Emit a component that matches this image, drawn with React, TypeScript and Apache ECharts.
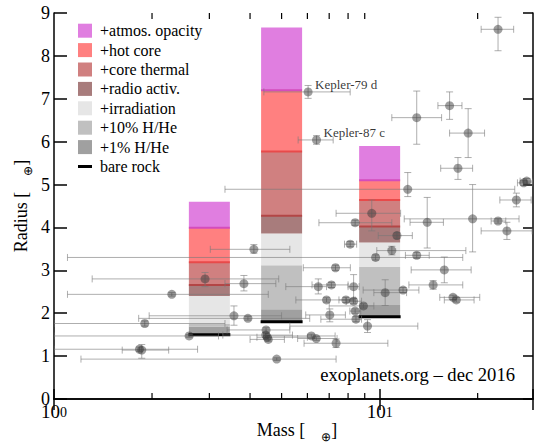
import React, { useEffect, useRef } from "react";
import * as echarts from "echarts";

// ---- bar (model) data: planet mass and radius at each layer top ----
const barMasses = [3, 5, 10];
const bareRock = [1.5, 1.8, 1.92];
const onePctHHe = [1.69, 2.09, 2.19];
const tenPctHHe = [1.75, 3.12, 3.08];
const irradiation = [2.4, 3.86, 3.65];
const radioActiv = [2.66, 4.27, 4.02];
const coreThermal = [3.19, 5.77, 4.64];
const hotCore = [3.99, 7.2, 5.1];
const atmosOpacity = [4.6, 8.66, 5.9];

// ---- observed planets ----
const pointMass = [1.86, 1.83, 1.9, 2.3, 2.91, 2.6, 4.11, 3.57, 3.94, 3.83, 4.83, 6.03, 6.4, 23.1, 13.0, 16.4, 18.7, 17.4, 12.2, 27.7, 28.3, 26.3, 14.0, 19.3, 23.1, 24.6, 11.3, 10.9, 9.72, 13.0, 15.8, 14.6, 16.8, 17.2, 9.46, 8.41, 8.12, 7.32, 6.48, 7.11, 8.32, 6.87, 7.88, 8.32, 10.4, 11.8, 8.92, 8.41, 7.03, 8.46, 9.18, 4.48, 4.47, 4.52, 4.55, 6.17, 6.39, 7.35];
const pointRadius = [1.14, 1.16, 1.76, 2.44, 2.8, 1.47, 3.49, 1.94, 1.88, 2.69, 0.93, 7.16, 6.04, 8.62, 6.56, 6.84, 6.2, 5.38, 4.89, 5.04, 5.08, 4.64, 4.12, 4.2, 4.15, 3.92, 3.81, 3.46, 3.3, 3.35, 3.01, 2.66, 2.37, 2.31, 4.33, 4.11, 3.61, 3.06, 2.62, 2.66, 2.62, 2.31, 2.31, 2.28, 2.48, 2.54, 2.17, 2.05, 1.96, 1.86, 1.7, 1.61, 1.49, 1.44, 1.39, 1.47, 1.41, 1.3];
const massLo = [1.62, 1.0, 1.0, 1.1, 1.31, 1.0, 3.02, 1.96, 1.82, 3.35, 1.21, 4.41, 5.62, 20.5, 10.9, 15.1, 16.4, 15.4, 3.35, 26.5, 27.0, 23.4, 12.4, 11.9, 22.0, 20.5, 9.9, 9.8, 1.1, 12.0, 12.5, 12.3, 15.3, 15.8, 7.35, 6.51, 7.8, 5.83, 5.15, 6.2, 8.0, 5.53, 7.5, 7.9, 9.6, 8.9, 7.0, 8.1, 5.93, 6.6, 5.3, 3.4, 3.3, 4.2, 4.0, 4.4, 5.6, 5.86];
const massHi = [2.25, 2.76, 3.35, 4.55, 4.9, 3.2, 5.3, 5.0, 6.1, 4.8, 7.35, 8.12, 7.2, 25.8, 15.5, 17.9, 21.0, 19.3, 26.0, 29.5, 29.6, 29.2, 15.7, 26.8, 24.4, 29.4, 12.6, 18.4, 18.0, 14.2, 19.1, 18.0, 20.3, 19.5, 11.6, 10.9, 8.5, 8.13, 6.87, 8.0, 8.65, 8.41, 8.3, 8.8, 12.1, 13.2, 9.6, 8.75, 7.85, 8.8, 13.1, 5.3, 5.4, 6.0, 5.1, 7.3, 7.4, 10.6];
const radiusLo = [0.95, 1.11, 1.7, 2.4, 2.62, 1.44, 3.4, 1.72, 1.84, 2.52, 0.9, 7.01, 5.94, 8.12, 5.94, 6.52, 5.63, 5.12, 4.72, 4.98, 5.02, 4.48, 3.52, 3.43, 4.1, 3.72, 3.74, 3.36, 3.24, 3.28, 2.71, 2.56, 2.32, 2.26, 3.92, 4.05, 3.55, 3.0, 2.45, 2.6, 2.35, 2.26, 2.25, 2.22, 2.18, 2.48, 2.12, 2.0, 1.8, 1.8, 1.55, 1.56, 1.44, 1.4, 1.35, 1.43, 1.37, 1.2];
const radiusHi = [1.27, 1.21, 1.82, 2.48, 2.95, 1.5, 3.6, 2.17, 1.92, 2.88, 0.96, 7.31, 6.14, 8.9, 7.18, 7.16, 6.77, 5.63, 5.28, 5.1, 5.14, 4.8, 4.7, 5.0, 4.2, 4.12, 3.88, 3.56, 3.36, 3.42, 3.31, 2.76, 2.42, 2.36, 4.64, 4.17, 3.67, 3.12, 2.8, 2.72, 2.9, 2.36, 2.37, 2.34, 2.78, 2.6, 2.22, 2.1, 2.1, 1.92, 1.85, 1.66, 1.54, 1.48, 1.43, 1.51, 1.45, 1.4];

const labelledNames = ["Kepler-79 d", "Kepler-87 c"];
const labelledIndex = [11, 12];

const minorTickMasses = [2, 3, 4, 5, 6, 7, 8, 9, 20];
const xMin = 1;
const xMax = 29.58;
const yMin = 0;
const yMax = 9;
const creditText = "exoplanets.org \u2013 dec 2016";

const FONT = "Liberation Serif";
const BAR_W = 41;
const ERR = "rgba(120,120,120,0.6)";

const layers = [
  { name: "+1% H/He", bottom: bareRock, top: onePctHHe, color: "#a0a0a0", edge: "" },
  { name: "+10% H/He", bottom: onePctHHe, top: tenPctHHe, color: "#c0c0c0", edge: "" },
  { name: "+irradiation", bottom: tenPctHHe, top: irradiation, color: "#e6e6e6", edge: "" },
  { name: "+radio activ.", bottom: irradiation, top: radioActiv, color: "#a87c7c", edge: "" },
  { name: "+core thermal", bottom: radioActiv, top: coreThermal, color: "#d08080", edge: "#b34646" },
  { name: "+hot core", bottom: coreThermal, top: hotCore, color: "#ff8080", edge: "#e84a4a" },
  { name: "+atmos. opacity", bottom: hotCore, top: atmosOpacity, color: "#e07ee0", edge: "#d44cbc" },
];

function buildOption() {
  const layerSeries = layers.map((L) => ({
    type: "custom",
    name: L.name,
    z: 2,
    silent: true,
    itemStyle: { color: L.color },
    dimensions: ["m", "lo", "hi"],
    encode: { x: 0, y: [1, 2] },
    data: barMasses.map((m, i) => [m, L.bottom[i], L.top[i]]),
    renderItem: (params: any, api: any) => {
      const m = api.value(0);
      const p0 = api.coord([m, api.value(1)]);
      const p1 = api.coord([m, api.value(2)]);
      const x0 = p0[0] - BAR_W / 2;
      const children: any[] = [
        {
          type: "rect",
          shape: { x: x0, y: p1[1], width: BAR_W, height: p0[1] - p1[1] },
          style: { fill: L.color },
        },
      ];
      if (L.edge) {
        children.push({
          type: "line",
          shape: { x1: x0, y1: p0[1], x2: x0 + BAR_W, y2: p0[1] },
          style: { stroke: L.edge, lineWidth: 2 },
        });
      }
      return { type: "group", children };
    },
  }));

  const rockSeries = {
    type: "custom",
    name: "bare rock",
    z: 2,
    silent: true,
    itemStyle: { color: "#000" },
    dimensions: ["m", "r"],
    encode: { x: 0, y: 1 },
    data: barMasses.map((m, i) => [m, bareRock[i]]),
    renderItem: (params: any, api: any) => {
      const p = api.coord([api.value(0), api.value(1)]);
      return {
        type: "rect",
        shape: { x: p[0] - BAR_W / 2 - 0.5, y: p[1] - 1.5, width: BAR_W + 1, height: 3 },
        style: { fill: "#000" },
      };
    },
  };

  const errData = pointMass.map((m, i) => [m, pointRadius[i], massLo[i], massHi[i], radiusLo[i], radiusHi[i]]);
  const errSeries = {
    type: "custom",
    name: "errors",
    z: 3,
    silent: true,
    clip: true,
    dimensions: ["m", "r", "mLo", "mHi", "rLo", "rHi"],
    encode: { x: [0, 2, 3], y: [1, 4, 5] },
    data: errData,
    renderItem: (params: any, api: any) => {
      const m = api.value(0);
      const r = api.value(1);
      const c = api.coord([m, r]);
      const l = api.coord([api.value(2), r]);
      const h = api.coord([api.value(3), r]);
      const b = api.coord([m, api.value(4)]);
      const t = api.coord([m, api.value(5)]);
      const s = { stroke: ERR, lineWidth: 1 };
      const cap = 3.5;
      return {
        type: "group",
        children: [
          { type: "line", shape: { x1: l[0], y1: c[1], x2: h[0], y2: c[1] }, style: s },
          { type: "line", shape: { x1: l[0], y1: c[1] - cap, x2: l[0], y2: c[1] + cap }, style: s },
          { type: "line", shape: { x1: h[0], y1: c[1] - cap, x2: h[0], y2: c[1] + cap }, style: s },
          { type: "line", shape: { x1: c[0], y1: b[1], x2: c[0], y2: t[1] }, style: s },
          { type: "line", shape: { x1: c[0] - cap, y1: b[1], x2: c[0] + cap, y2: b[1] }, style: s },
          { type: "line", shape: { x1: c[0] - cap, y1: t[1], x2: c[0] + cap, y2: t[1] }, style: s },
        ],
      };
    },
  };

  const pointSeries = {
    type: "scatter",
    name: "planets",
    z: 4,
    silent: true,
    symbolSize: 9,
    itemStyle: { color: "rgba(55,55,55,0.6)" },
    data: pointMass.map((m, i) => [m, pointRadius[i]]),
  };

  const labelSeries = {
    type: "scatter",
    name: "labels",
    z: 5,
    silent: true,
    symbolSize: 0,
    data: labelledIndex.map((idx, k) => ({ name: labelledNames[k], value: [pointMass[idx], pointRadius[idx]] })),
    label: {
      show: true,
      formatter: "{b}",
      position: "right",
      distance: 7,
      offset: [0, -7],
      fontFamily: FONT,
      fontSize: 13,
      color: "#000",
    },
  };

  const minorTickSeries = {
    type: "custom",
    name: "minorTicks",
    z: 6,
    silent: true,
    dimensions: ["m"],
    encode: { x: 0 },
    data: minorTickMasses.map((m) => [m]),
    renderItem: (params: any, api: any) => {
      const b = api.coord([api.value(0), yMin]);
      const t = api.coord([api.value(0), yMax]);
      const s = { stroke: "#000", lineWidth: 1.2 };
      return {
        type: "group",
        children: [
          { type: "line", shape: { x1: b[0], y1: b[1], x2: b[0], y2: b[1] - 6 }, style: s },
          { type: "line", shape: { x1: t[0], y1: t[1], x2: t[0], y2: t[1] + 6 }, style: s },
        ],
      };
    },
  };

  const axisLine = { show: true, lineStyle: { color: "#000", width: 1.5 } };
  const powLabel = (v: number) => {
    const e = Math.log10(v);
    if (Math.abs(e - Math.round(e)) < 1e-6) return `{b|10}{s|${Math.round(e)}}`;
    return "";
  };

  return {
    animation: false,
    backgroundColor: "#fff",
    textStyle: { fontFamily: FONT },
    grid: { left: 54, top: 13, width: 484, height: 386, containLabel: false },
    xAxis: [
      {
        type: "log",
        logBase: 10,
        min: xMin,
        max: xMax,
        position: "bottom",
        axisLine,
        axisTick: { show: true, inside: true, length: 10, lineStyle: { color: "#000", width: 1.5 } },
        splitLine: { show: false },
        axisLabel: {
          show: true,
          margin: 6,
          showMinLabel: true,
          formatter: powLabel,
          color: "#000",
          fontFamily: FONT,
          rich: {
            b: { fontFamily: FONT, fontSize: 19, lineHeight: 16, verticalAlign: "bottom", color: "#000" },
            s: { fontFamily: FONT, fontSize: 14, lineHeight: 12, verticalAlign: "top", padding: [0, 0, 6, 0], color: "#000" },
          },
        },
      },
      {
        type: "log",
        logBase: 10,
        min: xMin,
        max: xMax,
        position: "top",
        axisLine,
        axisTick: { show: true, inside: true, length: 11, lineStyle: { color: "#000", width: 1.5 } },
        splitLine: { show: false },
        axisLabel: { show: false },
      },
    ],
    yAxis: [
      {
        type: "value",
        min: yMin,
        max: yMax,
        interval: 1,
        position: "left",
        axisLine,
        axisTick: { show: true, inside: true, length: 13, lineStyle: { color: "#000", width: 1.5 } },
        splitLine: { show: false },
        axisLabel: { margin: 4, fontFamily: FONT, fontSize: 18, lineHeight: 12, color: "#000" },
      },
      {
        type: "value",
        min: yMin,
        max: yMax,
        interval: 1,
        position: "right",
        axisLine,
        axisTick: { show: true, inside: true, length: 10, lineStyle: { color: "#000", width: 1.5 } },
        splitLine: { show: false },
        axisLabel: { show: false },
      },
    ],
    legend: {
      orient: "vertical",
      left: 78,
      top: 21,
      padding: 0,
      itemWidth: 14,
      itemHeight: 14,
      itemGap: 0,
      icon: "rect",
      symbolKeepAspect: true,
      selectedMode: false,
      textStyle: { fontFamily: FONT, fontSize: 16, color: "#000", lineHeight: 19.4, padding: [0, 0, 0, 3] },
      data: [
        "+atmos. opacity",
        "+hot core",
        "+core thermal",
        "+radio activ.",
        "+irradiation",
        "+10% H/He",
        "+1% H/He",
        { name: "bare rock", icon: "path://M0,0h14v3h-14z" },
      ],
    },
    graphic: [
      {
        type: "text",
        x: 515,
        y: 374,
        style: { text: creditText, fontFamily: FONT, fontSize: 18.6, fill: "#000", align: "right", verticalAlign: "middle" },
        z: 10,
      },
      {
        type: "text",
        x: 297,
        y: 431,
        style: {
          text: "{n|Mass [}{g| }{s|\u2295}{n|]}",
          align: "center",
          verticalAlign: "middle",
          fontFamily: FONT,
          rich: {
            n: { fontFamily: FONT, fontSize: 18, lineHeight: 20, verticalAlign: "top", fill: "#000" },
            g: { fontFamily: FONT, fontSize: 18, lineHeight: 20, width: 16, verticalAlign: "top" },
            s: { fontFamily: FONT, fontSize: 12, lineHeight: 12, verticalAlign: "top", padding: [10, 0, 0, 0], fill: "#000" },
          },
        },
      },
      {
        type: "text",
        x: 22,
        y: 206,
        rotation: Math.PI / 2,
        style: {
          text: "{n|Radius [}{g| }{s|\u2295}{n|]}",
          align: "center",
          verticalAlign: "middle",
          fontFamily: FONT,
          rich: {
            n: { fontFamily: FONT, fontSize: 18, lineHeight: 20, verticalAlign: "top", fill: "#000" },
            g: { fontFamily: FONT, fontSize: 18, lineHeight: 20, width: 16, verticalAlign: "top" },
            s: { fontFamily: FONT, fontSize: 12, lineHeight: 12, verticalAlign: "top", padding: [10, 0, 0, 0], fill: "#000" },
          },
        },
      },
    ],
    series: [...layerSeries, rockSeries, errSeries, pointSeries, labelSeries, minorTickSeries],
  };
}

export default function App() {
  const ref = useRef<HTMLDivElement>(null);
  useEffect(() => {
    document.body.style.margin = "0";
    const chart = echarts.init(ref.current as HTMLDivElement, null, { renderer: "svg" });
    chart.setOption(buildOption() as any);
    return () => chart.dispose();
  }, []);
  return <div ref={ref} style={{ width: 536, height: 447, position: "absolute", left: 0, top: 0 }} />;
}
